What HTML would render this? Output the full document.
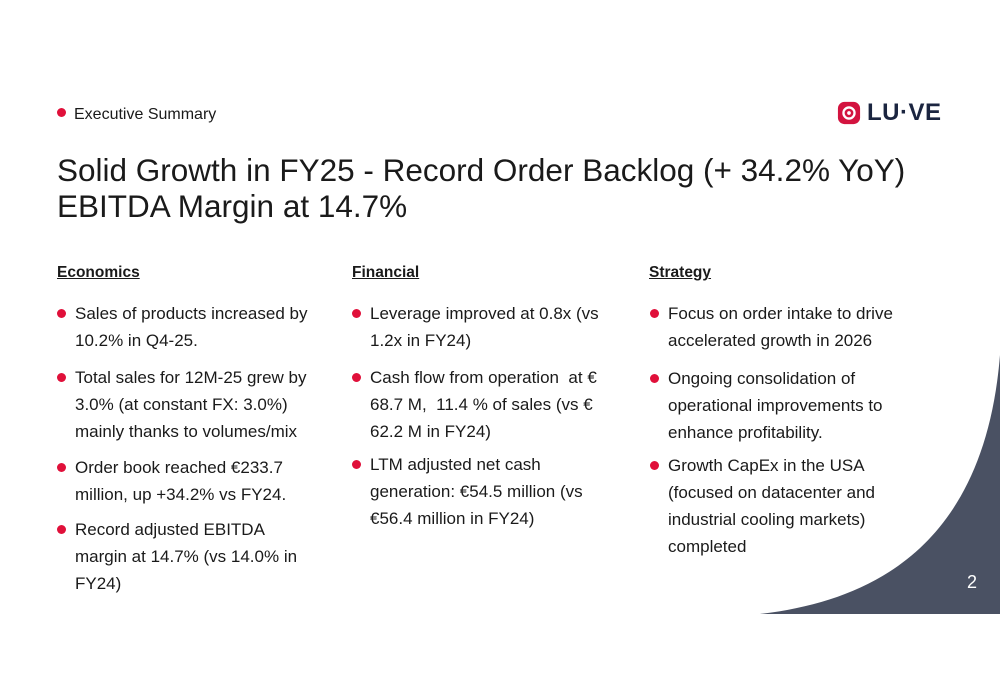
<!DOCTYPE html>
<html><head><meta charset="utf-8"><style>
body{margin:0;width:1000px;height:685px;background:#fff;font-family:"Liberation Sans",sans-serif;color:#1a1a1a;position:relative;overflow:hidden}
.a{position:absolute;white-space:nowrap}
.dot{display:inline-block;width:9px;height:9px;border-radius:50%;background:#e0103a;margin-right:8px;vertical-align:2px}
.h{font-weight:bold;text-decoration:underline;font-size:15.5px}
.b{position:absolute;font-size:17px;line-height:27px;white-space:nowrap}
.b .dot{position:absolute;left:-18px;top:9px;margin:0}
</style></head><body>
<div class="a" style="left:57px;top:106px;font-size:16px"><span class="dot"></span>Executive Summary</div>
<div class="a" style="left:837px;top:101px">
<svg width="24" height="24" viewBox="0 0 26 26"><rect x="1" y="1" width="24" height="24" rx="7" fill="#d3133f"/><circle cx="13" cy="13" r="6" fill="none" stroke="#fff" stroke-width="2.5"/><circle cx="13" cy="13" r="2" fill="#fff"/></svg>
</div>
<div class="a" style="left:867px;top:99px;font-size:24px;font-weight:bold;color:#1b2540;letter-spacing:0.5px">LU·VE</div>
<div class="a" style="left:57px;top:152px;font-size:31.5px;line-height:36px;color:#1a1a1a">Solid Growth in FY25 - Record Order Backlog (+ 34.2% YoY)<br>EBITDA Margin at 14.7%</div>
<div class="a h" style="left:57px;top:264px">Economics</div>
<div class="a h" style="left:352px;top:264px">Financial</div>
<div class="a h" style="left:649px;top:264px">Strategy</div>

<div class="b" style="left:75px;top:300px"><span class="dot"></span>Sales of products increased by<br>10.2% in Q4-25.</div>
<div class="b" style="left:75px;top:364px"><span class="dot"></span>Total sales for 12M-25 grew by<br>3.0% (at constant FX: 3.0%)<br>mainly thanks to volumes/mix</div>
<div class="b" style="left:75px;top:454px"><span class="dot"></span>Order book reached €233.7<br>million, up +34.2% vs FY24.</div>
<div class="b" style="left:75px;top:516px"><span class="dot"></span>Record adjusted EBITDA<br>margin at 14.7% (vs 14.0% in<br>FY24)</div>

<div class="b" style="left:370px;top:300px"><span class="dot"></span>Leverage improved at 0.8x (vs<br>1.2x in FY24)</div>
<div class="b" style="left:370px;top:364px"><span class="dot"></span>Cash flow from operation&nbsp; at €<br>68.7 M,&nbsp; 11.4 % of sales (vs €<br>62.2 M in FY24)</div>
<div class="b" style="left:370px;top:451px"><span class="dot"></span>LTM adjusted net cash<br>generation: €54.5 million (vs<br>€56.4 million in FY24)</div>

<div class="b" style="left:668px;top:300px"><span class="dot"></span>Focus on order intake to drive<br>accelerated growth in 2026</div>
<div class="b" style="left:668px;top:365px"><span class="dot"></span>Ongoing consolidation of<br>operational improvements to<br>enhance profitability.</div>
<div class="b" style="left:668px;top:452px"><span class="dot"></span>Growth CapEx in the USA<br>(focused on datacenter and<br>industrial cooling markets)<br>completed</div>

<svg class="a" style="left:0;top:0" width="1000" height="685"><path d="M760,614 C880,600 985,540 1000,355 L1000,614 Z" fill="#4a5163"/></svg>
<div class="a" style="left:967px;top:572px;font-size:18px;color:#fff">2</div>
</body></html>
